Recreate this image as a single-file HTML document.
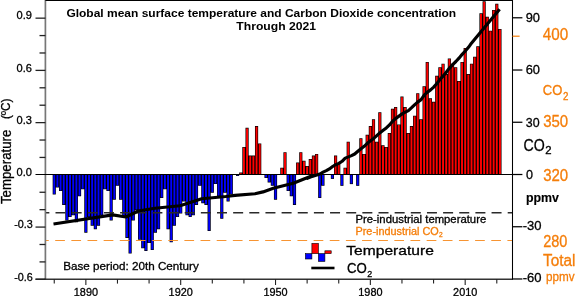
<!DOCTYPE html>
<html><head><meta charset="utf-8"><title>Global mean surface temperature and CO2</title>
<style>
html,body{margin:0;padding:0;background:#fff;}
body{width:575px;height:296px;overflow:hidden;}
svg{display:block;will-change:transform;font-family:"Liberation Sans",sans-serif;}
.r{fill:#f00;}
.b{fill:#00f;}
.lt{stroke:#222;stroke-width:1.3;}
.rt{stroke:#000;stroke-width:1.25;}
.bt{stroke:#222;stroke-width:1.1;}
.o{fill:#f57e0a;stroke:#f57e0a;}
text{stroke:#000;stroke-width:.3px;}
.o text,text.o{stroke:#f57e0a;}
.bold text{stroke-width:0;}
</style></head><body>
<svg width="575" height="296" viewBox="0 0 575 296">
<rect width="575" height="296" fill="#fff"/>
<!-- bars -->
<g>
<path d="M52.67,174.5 L52.67,194.52 L55.83,194.52 L55.83,187.58 L58.99,187.58 L58.99,191.05 L62.15,191.05 L62.15,204.93 L65.31,204.93 L65.31,220.54 L68.47,220.54 L68.47,217.07 L71.64,217.07 L71.64,215.34 L74.80,215.34 L74.80,222.28 L77.96,222.28 L77.96,196.25 L81.12,196.25 L81.12,189.31 L84.28,189.31 L84.28,232.69 L87.44,232.69 L87.44,217.07 L90.60,217.07 L90.60,225.75 L93.76,225.75 L93.76,229.22 L96.92,229.22 L96.92,225.75 L100.08,225.75 L100.08,215.34 L103.25,215.34 L103.25,189.31 L106.41,189.31 L106.41,191.05 L109.57,191.05 L109.57,220.54 L112.73,220.54 L112.73,199.72 L115.89,199.72 L115.89,185.84 L119.05,185.84 L119.05,199.72 L122.21,199.72 L122.21,217.07 L125.37,217.07 L125.37,237.89 L128.53,237.89 L128.53,253.51 L131.69,253.51 L131.69,220.54 L134.86,220.54 L134.86,210.13 L138.02,210.13 L138.02,239.63 L141.18,239.63 L141.18,248.31 L144.34,248.31 L144.34,250.91 L147.50,250.91 L147.50,243.10 L150.66,243.10 L150.66,250.04 L153.82,250.04 L153.82,232.69 L156.98,232.69 L156.98,229.22 L160.14,229.22 L160.14,197.99 L163.30,197.99 L163.30,189.31 L166.47,189.31 L166.47,229.22 L169.63,229.22 L169.63,242.23 L172.79,242.23 L172.79,225.75 L175.95,225.75 L175.95,217.07 L179.11,217.07 L179.11,213.60 L182.27,213.60 L182.27,201.46 L185.43,201.46 L185.43,215.34 L188.59,215.34 L188.59,217.07 L191.75,217.07 L191.75,215.34 L194.91,215.34 L194.91,204.93 L198.08,204.93 L198.08,185.84 L201.24,185.84 L201.24,203.19 L204.40,203.19 L204.40,204.93 L207.56,204.93 L207.56,230.95 L210.72,230.95 L210.72,192.78 L213.88,192.78 L213.88,184.11 L217.04,184.11 L217.04,196.25 L220.20,196.25 L220.20,218.81 L223.36,218.81 L223.36,192.78 L226.52,192.78 L226.52,201.46 L229.69,201.46 L229.69,194.52 L232.85,194.52 L232.85,174.5 Z" fill="#000"/>
<path d="M236.01,174.5 L236.01,175.96 L239.17,175.96 L239.17,174.5 Z" fill="#000"/>
<path d="M239.17,174.5 L239.17,172.53 L242.33,172.53 L242.33,146.94 L245.49,146.94 L245.49,127.85 L248.65,127.85 L248.65,155.61 L251.81,155.61 L251.81,155.61 L254.97,155.61 L254.97,126.12 L258.13,126.12 L258.13,143.47 L261.30,143.47 L261.30,174.5 Z" fill="#000"/>
<path d="M264.46,174.5 L264.46,178.04 L267.62,178.04 L267.62,182.38 L270.78,182.38 L270.78,185.84 L273.94,185.84 L273.94,199.72 L277.10,199.72 L277.10,174.5 Z" fill="#000"/>
<path d="M280.26,174.5 L280.26,167.76 L283.42,167.76 L283.42,152.14 L286.58,152.14 L286.58,174.5 Z" fill="#000"/>
<path d="M286.58,174.5 L286.58,191.05 L289.74,191.05 L289.74,196.25 L292.91,196.25 L292.91,204.93 L296.07,204.93 L296.07,174.5 Z" fill="#000"/>
<path d="M296.07,174.5 L296.07,162.55 L299.23,162.55 L299.23,152.14 L302.39,152.14 L302.39,160.82 L305.55,160.82 L305.55,166.02 L308.71,166.02 L308.71,159.08 L311.87,159.08 L311.87,155.61 L315.03,155.61 L315.03,153.88 L318.19,153.88 L318.19,174.5 Z" fill="#000"/>
<path d="M318.19,174.5 L318.19,197.99 L321.35,197.99 L321.35,185.84 L324.52,185.84 L324.52,174.5 Z" fill="#000"/>
<path d="M330.84,174.5 L330.84,178.91 L334.00,178.91 L334.00,174.5 Z" fill="#000"/>
<path d="M334.00,174.5 L334.00,155.61 L337.16,155.61 L337.16,164.29 L340.32,164.29 L340.32,174.5 Z" fill="#000"/>
<path d="M340.32,174.5 L340.32,185.84 L343.48,185.84 L343.48,174.5 Z" fill="#000"/>
<path d="M343.48,174.5 L343.48,167.76 L346.64,167.76 L346.64,141.73 L349.80,141.73 L349.80,174.5 Z" fill="#000"/>
<path d="M349.80,174.5 L349.80,184.11 L352.96,184.11 L352.96,174.5 Z" fill="#000"/>
<path d="M356.13,174.5 L356.13,185.84 L359.29,185.84 L359.29,174.5 Z" fill="#000"/>
<path d="M359.29,174.5 L359.29,138.26 L362.45,138.26 L362.45,153.88 L365.61,153.88 L365.61,134.79 L368.77,134.79 L368.77,126.12 L371.93,126.12 L371.93,119.18 L375.09,119.18 L375.09,141.73 L378.25,141.73 L378.25,112.24 L381.41,112.24 L381.41,145.20 L384.57,145.20 L384.57,146.94 L387.74,146.94 L387.74,133.06 L390.90,133.06 L390.90,108.77 L394.06,108.77 L394.06,107.03 L397.22,107.03 L397.22,124.38 L400.38,124.38 L400.38,96.62 L403.54,96.62 L403.54,107.03 L406.70,107.03 L406.70,133.06 L409.86,133.06 L409.86,126.12 L413.02,126.12 L413.02,115.71 L416.18,115.71 L416.18,93.15 L419.35,93.15 L419.35,119.18 L422.51,119.18 L422.51,86.21 L425.67,86.21 L425.67,61.92 L428.83,61.92 L428.83,98.36 L431.99,98.36 L431.99,101.83 L435.15,101.83 L435.15,75.80 L438.31,75.80 L438.31,67.13 L441.47,67.13 L441.47,63.66 L444.63,63.66 L444.63,74.07 L447.79,74.07 L447.79,58.45 L450.96,58.45 L450.96,63.66 L454.12,63.66 L454.12,67.13 L457.28,67.13 L457.28,81.01 L460.44,81.01 L460.44,61.92 L463.60,61.92 L463.60,48.04 L466.76,48.04 L466.76,74.07 L469.92,74.07 L469.92,63.66 L473.08,63.66 L473.08,56.72 L476.24,56.72 L476.24,46.31 L479.40,46.31 L479.40,13.34 L482.57,13.34 L482.57,1.20 L485.73,1.20 L485.73,16.81 L488.89,16.81 L488.89,30.69 L492.05,30.69 L492.05,9.88 L495.21,9.88 L495.21,3.80 L498.37,3.80 L498.37,28.96 L501.53,28.96 L501.53,174.5 Z" fill="#000"/>
<rect x="53.30" y="174.5" width="1.9" height="19.39" class="b"/>
<rect x="56.46" y="174.5" width="1.9" height="12.45" class="b"/>
<rect x="59.62" y="174.5" width="1.9" height="15.92" class="b"/>
<rect x="62.78" y="174.5" width="1.9" height="29.80" class="b"/>
<rect x="65.94" y="174.5" width="1.9" height="45.41" class="b"/>
<rect x="69.11" y="174.5" width="1.9" height="41.94" class="b"/>
<rect x="72.27" y="174.5" width="1.9" height="40.21" class="b"/>
<rect x="75.43" y="174.5" width="1.9" height="47.15" class="b"/>
<rect x="78.59" y="174.5" width="1.9" height="21.12" class="b"/>
<rect x="81.75" y="174.5" width="1.9" height="14.19" class="b"/>
<rect x="84.91" y="174.5" width="1.9" height="57.56" class="b"/>
<rect x="88.07" y="174.5" width="1.9" height="41.94" class="b"/>
<rect x="91.23" y="174.5" width="1.9" height="50.62" class="b"/>
<rect x="94.39" y="174.5" width="1.9" height="54.09" class="b"/>
<rect x="97.55" y="174.5" width="1.9" height="50.62" class="b"/>
<rect x="100.71" y="174.5" width="1.9" height="40.21" class="b"/>
<rect x="103.88" y="174.5" width="1.9" height="14.19" class="b"/>
<rect x="107.04" y="174.5" width="1.9" height="15.92" class="b"/>
<rect x="110.20" y="174.5" width="1.9" height="45.41" class="b"/>
<rect x="113.36" y="174.5" width="1.9" height="24.59" class="b"/>
<rect x="116.52" y="174.5" width="1.9" height="10.72" class="b"/>
<rect x="119.68" y="174.5" width="1.9" height="24.59" class="b"/>
<rect x="122.84" y="174.5" width="1.9" height="41.94" class="b"/>
<rect x="126.00" y="174.5" width="1.9" height="62.76" class="b"/>
<rect x="129.16" y="174.5" width="1.9" height="78.38" class="b"/>
<rect x="132.33" y="174.5" width="1.9" height="45.41" class="b"/>
<rect x="135.49" y="174.5" width="1.9" height="35.00" class="b"/>
<rect x="138.65" y="174.5" width="1.9" height="64.50" class="b"/>
<rect x="141.81" y="174.5" width="1.9" height="73.18" class="b"/>
<rect x="144.97" y="174.5" width="1.9" height="75.78" class="b"/>
<rect x="148.13" y="174.5" width="1.9" height="67.97" class="b"/>
<rect x="151.29" y="174.5" width="1.9" height="74.91" class="b"/>
<rect x="154.45" y="174.5" width="1.9" height="57.56" class="b"/>
<rect x="157.61" y="174.5" width="1.9" height="54.09" class="b"/>
<rect x="160.77" y="174.5" width="1.9" height="22.86" class="b"/>
<rect x="163.94" y="174.5" width="1.9" height="14.19" class="b"/>
<rect x="167.10" y="174.5" width="1.9" height="54.09" class="b"/>
<rect x="170.26" y="174.5" width="1.9" height="67.10" class="b"/>
<rect x="173.42" y="174.5" width="1.9" height="50.62" class="b"/>
<rect x="176.58" y="174.5" width="1.9" height="41.94" class="b"/>
<rect x="179.74" y="174.5" width="1.9" height="38.47" class="b"/>
<rect x="182.90" y="174.5" width="1.9" height="26.33" class="b"/>
<rect x="186.06" y="174.5" width="1.9" height="40.21" class="b"/>
<rect x="189.22" y="174.5" width="1.9" height="41.94" class="b"/>
<rect x="192.38" y="174.5" width="1.9" height="40.21" class="b"/>
<rect x="195.55" y="174.5" width="1.9" height="29.80" class="b"/>
<rect x="198.71" y="174.5" width="1.9" height="10.72" class="b"/>
<rect x="201.87" y="174.5" width="1.9" height="28.06" class="b"/>
<rect x="205.03" y="174.5" width="1.9" height="29.80" class="b"/>
<rect x="208.19" y="174.5" width="1.9" height="55.82" class="b"/>
<rect x="211.35" y="174.5" width="1.9" height="17.66" class="b"/>
<rect x="214.51" y="174.5" width="1.9" height="8.98" class="b"/>
<rect x="217.67" y="174.5" width="1.9" height="21.12" class="b"/>
<rect x="220.83" y="174.5" width="1.9" height="43.68" class="b"/>
<rect x="223.99" y="174.5" width="1.9" height="17.66" class="b"/>
<rect x="227.16" y="174.5" width="1.9" height="26.33" class="b"/>
<rect x="230.32" y="174.5" width="1.9" height="19.39" class="b"/>
<rect x="236.64" y="174.5" width="1.9" height="0.83" class="b"/>
<rect x="239.80" y="173.16" width="1.9" height="1.34" class="r"/>
<rect x="242.96" y="147.57" width="1.9" height="26.93" class="r"/>
<rect x="246.12" y="128.48" width="1.9" height="46.02" class="r"/>
<rect x="249.28" y="156.24" width="1.9" height="18.26" class="r"/>
<rect x="252.44" y="156.24" width="1.9" height="18.26" class="r"/>
<rect x="255.60" y="126.75" width="1.9" height="47.75" class="r"/>
<rect x="258.77" y="144.10" width="1.9" height="30.40" class="r"/>
<rect x="265.09" y="174.5" width="1.9" height="2.91" class="b"/>
<rect x="268.25" y="174.5" width="1.9" height="7.25" class="b"/>
<rect x="271.41" y="174.5" width="1.9" height="10.72" class="b"/>
<rect x="274.57" y="174.5" width="1.9" height="24.59" class="b"/>
<rect x="280.89" y="168.39" width="1.9" height="6.11" class="r"/>
<rect x="284.05" y="152.77" width="1.9" height="21.73" class="r"/>
<rect x="287.21" y="174.5" width="1.9" height="15.92" class="b"/>
<rect x="290.38" y="174.5" width="1.9" height="21.12" class="b"/>
<rect x="293.54" y="174.5" width="1.9" height="29.80" class="b"/>
<rect x="296.70" y="163.18" width="1.9" height="11.32" class="r"/>
<rect x="299.86" y="152.77" width="1.9" height="21.73" class="r"/>
<rect x="303.02" y="161.45" width="1.9" height="13.05" class="r"/>
<rect x="306.18" y="166.65" width="1.9" height="7.85" class="r"/>
<rect x="309.34" y="159.71" width="1.9" height="14.79" class="r"/>
<rect x="312.50" y="156.24" width="1.9" height="18.26" class="r"/>
<rect x="315.66" y="154.51" width="1.9" height="19.99" class="r"/>
<rect x="318.82" y="174.5" width="1.9" height="22.86" class="b"/>
<rect x="321.99" y="174.5" width="1.9" height="10.72" class="b"/>
<rect x="331.47" y="174.5" width="1.9" height="3.78" class="b"/>
<rect x="334.63" y="156.24" width="1.9" height="18.26" class="r"/>
<rect x="337.79" y="164.92" width="1.9" height="9.58" class="r"/>
<rect x="340.95" y="174.5" width="1.9" height="10.72" class="b"/>
<rect x="344.11" y="168.39" width="1.9" height="6.11" class="r"/>
<rect x="347.27" y="142.36" width="1.9" height="32.14" class="r"/>
<rect x="350.43" y="174.5" width="1.9" height="8.98" class="b"/>
<rect x="356.76" y="174.5" width="1.9" height="10.72" class="b"/>
<rect x="359.92" y="138.89" width="1.9" height="35.61" class="r"/>
<rect x="363.08" y="154.51" width="1.9" height="19.99" class="r"/>
<rect x="366.24" y="135.42" width="1.9" height="39.08" class="r"/>
<rect x="369.40" y="126.75" width="1.9" height="47.75" class="r"/>
<rect x="372.56" y="119.81" width="1.9" height="54.69" class="r"/>
<rect x="375.72" y="142.36" width="1.9" height="32.14" class="r"/>
<rect x="378.88" y="112.87" width="1.9" height="61.63" class="r"/>
<rect x="382.04" y="145.83" width="1.9" height="28.67" class="r"/>
<rect x="385.21" y="147.57" width="1.9" height="26.93" class="r"/>
<rect x="388.37" y="133.69" width="1.9" height="40.81" class="r"/>
<rect x="391.53" y="109.40" width="1.9" height="65.10" class="r"/>
<rect x="394.69" y="107.66" width="1.9" height="66.84" class="r"/>
<rect x="397.85" y="125.01" width="1.9" height="49.49" class="r"/>
<rect x="401.01" y="97.25" width="1.9" height="77.25" class="r"/>
<rect x="404.17" y="107.66" width="1.9" height="66.84" class="r"/>
<rect x="407.33" y="133.69" width="1.9" height="40.81" class="r"/>
<rect x="410.49" y="126.75" width="1.9" height="47.75" class="r"/>
<rect x="413.65" y="116.34" width="1.9" height="58.16" class="r"/>
<rect x="416.81" y="93.78" width="1.9" height="80.72" class="r"/>
<rect x="419.98" y="119.81" width="1.9" height="54.69" class="r"/>
<rect x="423.14" y="86.84" width="1.9" height="87.66" class="r"/>
<rect x="426.30" y="62.55" width="1.9" height="111.95" class="r"/>
<rect x="429.46" y="98.99" width="1.9" height="75.51" class="r"/>
<rect x="432.62" y="102.46" width="1.9" height="72.04" class="r"/>
<rect x="435.78" y="76.43" width="1.9" height="98.07" class="r"/>
<rect x="438.94" y="67.76" width="1.9" height="106.74" class="r"/>
<rect x="442.10" y="64.29" width="1.9" height="110.21" class="r"/>
<rect x="445.26" y="74.70" width="1.9" height="99.80" class="r"/>
<rect x="448.43" y="59.08" width="1.9" height="115.42" class="r"/>
<rect x="451.59" y="64.29" width="1.9" height="110.21" class="r"/>
<rect x="454.75" y="67.76" width="1.9" height="106.74" class="r"/>
<rect x="457.91" y="81.64" width="1.9" height="92.86" class="r"/>
<rect x="461.07" y="62.55" width="1.9" height="111.95" class="r"/>
<rect x="464.23" y="48.67" width="1.9" height="125.83" class="r"/>
<rect x="467.39" y="74.70" width="1.9" height="99.80" class="r"/>
<rect x="470.55" y="64.29" width="1.9" height="110.21" class="r"/>
<rect x="473.71" y="57.35" width="1.9" height="117.15" class="r"/>
<rect x="476.87" y="46.94" width="1.9" height="127.56" class="r"/>
<rect x="480.04" y="13.97" width="1.9" height="160.53" class="r"/>
<rect x="483.20" y="1.83" width="1.9" height="172.67" class="r"/>
<rect x="486.36" y="17.44" width="1.9" height="157.06" class="r"/>
<rect x="489.52" y="31.32" width="1.9" height="143.18" class="r"/>
<rect x="492.68" y="10.51" width="1.9" height="164.00" class="r"/>
<rect x="495.84" y="4.43" width="1.9" height="170.07" class="r"/>
<rect x="499.00" y="29.59" width="1.9" height="144.91" class="r"/>
</g>
<!-- dashed lines -->
<line x1="45.4" y1="212.8" x2="512.5" y2="212.8" stroke="#2a2a2a" stroke-width="1.5" stroke-dasharray="10 6.15" stroke-dashoffset="6.05"/>
<line x1="45.4" y1="240.5" x2="512.5" y2="240.5" stroke="#f79432" stroke-width="1.1" stroke-dasharray="9.7 6.45" stroke-dashoffset="6.35"/>
<!-- axes -->
<line x1="45.4" y1="0" x2="45.4" y2="279.15" stroke="#777" stroke-width="1.7"/>
<line x1="44.699999999999996" y1="279.15" x2="512.5" y2="279.15" stroke="#333" stroke-width="1.5"/>
<line x1="35.5" y1="279.15" x2="45.4" y2="279.15" stroke="#222" stroke-width="1.3"/>
<line x1="45.4" y1="0.5" x2="512.5" y2="0.5" stroke="#000" stroke-width="1.2"/>
<line x1="512.5" y1="0" x2="512.5" y2="279.84999999999997" stroke="#000" stroke-width="1.05"/>
<!-- zero line -->
<line x1="35.5" y1="174.5" x2="521.8" y2="174.5" stroke="#000" stroke-width="1.15"/>
<line x1="35.5" y1="279.31" x2="45.4" y2="279.31" class="lt"/>
<line x1="39.5" y1="261.90" x2="45.4" y2="261.90" class="lt"/>
<line x1="39.5" y1="244.49" x2="45.4" y2="244.49" class="lt"/>
<line x1="35.5" y1="227.08" x2="45.4" y2="227.08" class="lt"/>
<line x1="39.5" y1="209.67" x2="45.4" y2="209.67" class="lt"/>
<line x1="39.5" y1="192.26" x2="45.4" y2="192.26" class="lt"/>
<line x1="39.5" y1="157.44" x2="45.4" y2="157.44" class="lt"/>
<line x1="39.5" y1="140.03" x2="45.4" y2="140.03" class="lt"/>
<line x1="35.5" y1="122.62" x2="45.4" y2="122.62" class="lt"/>
<line x1="39.5" y1="105.21" x2="45.4" y2="105.21" class="lt"/>
<line x1="39.5" y1="87.80" x2="45.4" y2="87.80" class="lt"/>
<line x1="35.5" y1="70.39" x2="45.4" y2="70.39" class="lt"/>
<line x1="39.5" y1="52.98" x2="45.4" y2="52.98" class="lt"/>
<line x1="39.5" y1="35.57" x2="45.4" y2="35.57" class="lt"/>
<line x1="35.5" y1="18.16" x2="45.4" y2="18.16" class="lt"/>
<line x1="512.5" y1="17.78" x2="522.4" y2="17.78" class="rt"/>
<line x1="512.5" y1="70.02" x2="522.4" y2="70.02" class="rt"/>
<line x1="512.5" y1="122.26" x2="522.4" y2="122.26" class="rt"/>
<line x1="512.5" y1="174.50" x2="522.4" y2="174.50" class="rt"/>
<line x1="512.5" y1="226.74" x2="522.4" y2="226.74" class="rt"/>
<line x1="512.5" y1="278.98" x2="522.4" y2="278.98" class="rt"/>
<line x1="512.5" y1="36.2" x2="519.6" y2="36.2" stroke="#f57e0a" stroke-width="1.2"/>
<line x1="54.25" y1="279.15" x2="54.25" y2="283.6" class="bt"/>
<line x1="85.86" y1="279.15" x2="85.86" y2="285" class="bt"/>
<line x1="117.47" y1="279.15" x2="117.47" y2="283.6" class="bt"/>
<line x1="149.08" y1="279.15" x2="149.08" y2="283.6" class="bt"/>
<line x1="180.69" y1="279.15" x2="180.69" y2="285" class="bt"/>
<line x1="212.30" y1="279.15" x2="212.30" y2="283.6" class="bt"/>
<line x1="243.91" y1="279.15" x2="243.91" y2="283.6" class="bt"/>
<line x1="275.52" y1="279.15" x2="275.52" y2="285" class="bt"/>
<line x1="307.13" y1="279.15" x2="307.13" y2="283.6" class="bt"/>
<line x1="338.74" y1="279.15" x2="338.74" y2="283.6" class="bt"/>
<line x1="370.35" y1="279.15" x2="370.35" y2="285" class="bt"/>
<line x1="401.96" y1="279.15" x2="401.96" y2="283.6" class="bt"/>
<line x1="433.57" y1="279.15" x2="433.57" y2="283.6" class="bt"/>
<line x1="465.18" y1="279.15" x2="465.18" y2="285" class="bt"/>
<line x1="496.79" y1="279.15" x2="496.79" y2="283.6" class="bt"/>
<!-- CO2 line -->
<path d="M53.5,224.0 L112.7,214.9 L126.0,217.0 L138.3,211.0 L155.0,208.2 L180.0,205.7 L201.7,198.7 L225.8,196.5 L235.0,195.4 L255.0,193.7 L263.0,191.9 L273.3,188.2 L293.3,183.2 L310.8,176.3 L307.3,178.3 L310.4,177.0 L313.6,176.0 L316.8,175.0 L319.9,174.0 L323.1,172.1 L326.3,170.6 L329.4,168.9 L332.6,166.5 L335.7,164.7 L338.9,163.4 L342.1,161.3 L345.2,158.1 L348.4,156.9 L351.5,155.6 L354.7,154.0 L357.9,151.3 L361.0,148.7 L364.2,146.3 L367.3,143.3 L370.5,140.8 L373.7,138.4 L376.8,135.6 L380.0,132.7 L383.2,130.2 L386.3,127.9 L389.5,124.9 L392.6,121.2 L395.8,118.4 L399.0,116.1 L402.1,113.9 L405.3,112.2 L408.4,110.6 L411.6,107.7 L414.8,104.6 L417.9,101.9 L421.1,99.6 L424.2,95.2 L427.4,92.1 L430.6,89.9 L433.7,87.1 L436.9,83.5 L440.1,79.4 L443.2,75.9 L446.4,72.0 L449.5,68.1 L452.7,64.6 L455.9,61.5 L459.0,58.2 L462.2,54.3 L465.3,51.0 L468.5,47.3 L470.6,44.3 L499.6,9.2" fill="none" stroke="#000" stroke-width="3.15" stroke-linejoin="round"/>
<!-- left labels -->
<g font-size="11.8" fill="#000" text-anchor="end">
<text x="32" y="19.2" textLength="15.4" lengthAdjust="spacingAndGlyphs">0.9</text>
<text x="32" y="71.5" textLength="15.4" lengthAdjust="spacingAndGlyphs">0.6</text>
<text x="32" y="123.8" textLength="15.4" lengthAdjust="spacingAndGlyphs">0.3</text>
<text x="32" y="175.9" textLength="15.4" lengthAdjust="spacingAndGlyphs">0.0</text>
<text x="32.8" y="228.2" textLength="18.6" lengthAdjust="spacingAndGlyphs">-0.3</text>
<text x="32.8" y="280.6" textLength="18.6" lengthAdjust="spacingAndGlyphs">-0.6</text>
</g>
<text transform="translate(10.6,204) rotate(-90)" font-size="14" textLength="74.3" lengthAdjust="spacingAndGlyphs">Temperature</text>
<text transform="translate(9.9,119.1) rotate(-90)" font-size="13.4" textLength="20.4" lengthAdjust="spacingAndGlyphs">(ºC)</text>
<!-- bottom labels -->
<g font-size="11.6" fill="#000" text-anchor="middle">
<text x="85.9" y="296.3" textLength="24.2" lengthAdjust="spacingAndGlyphs">1890</text>
<text x="180.7" y="296.3" textLength="24.2" lengthAdjust="spacingAndGlyphs">1920</text>
<text x="275.5" y="296.3" textLength="24.2" lengthAdjust="spacingAndGlyphs">1950</text>
<text x="370.4" y="296.3" textLength="24.2" lengthAdjust="spacingAndGlyphs">1980</text>
<text x="465.2" y="296.3" textLength="24.2" lengthAdjust="spacingAndGlyphs">2010</text>
</g>
<!-- title -->
<g class="bold" font-size="10.8" font-weight="bold" fill="#000">
<text x="66.4" y="16.8" textLength="389.8" lengthAdjust="spacingAndGlyphs">Global mean surface temperature and Carbon Dioxide concentration</text>
<text x="236.3" y="29.9" textLength="79.7" lengthAdjust="spacingAndGlyphs">Through 2021</text>
</g>
<!-- inside texts -->
<text x="63.25" y="270.2" font-size="11.5" textLength="135.5" lengthAdjust="spacingAndGlyphs">Base period: 20th Century</text>
<text x="355.5" y="223.2" font-size="10.5" textLength="130.7" lengthAdjust="spacingAndGlyphs">Pre-industrial temperature</text>
<text x="355.5" y="234.5" font-size="10.5" class="o" textLength="83.3" lengthAdjust="spacingAndGlyphs">Pre-industrial CO</text>
<text x="439" y="237.2" font-size="6.6" class="o">2</text>
<!-- legend -->
<g stroke="#000" stroke-width=".6">
<rect x="305.4" y="253.6" width="6.5" height="5.4" fill="#00f"/>
<rect x="311.9" y="243.4" width="6.5" height="10.2" fill="#f00"/>
<rect x="318.4" y="253.6" width="6.5" height="7.8" fill="#00f"/>
<rect x="324.9" y="250.8" width="6.3" height="2.8" fill="#f00"/>
</g>
<line x1="311.3" y1="268" x2="334.5" y2="268" stroke="#000" stroke-width="2.6"/>
<text x="346.3" y="254.8" font-size="13.6" textLength="87.5" lengthAdjust="spacingAndGlyphs">Temperature</text>
<text x="346.9" y="273" font-size="15" textLength="19.8" lengthAdjust="spacingAndGlyphs">CO</text>
<text x="367.2" y="276.8" font-size="9.5" textLength="5" lengthAdjust="spacingAndGlyphs">2</text>
<!-- right labels -->
<g font-size="13.3" fill="#000" text-anchor="end">
<text x="540" y="22" textLength="14.3" lengthAdjust="spacingAndGlyphs">90</text>
<text x="540" y="74.4" textLength="14.3" lengthAdjust="spacingAndGlyphs">60</text>
<text x="539.6" y="126.5" textLength="13.8" lengthAdjust="spacingAndGlyphs">30</text>
<text x="533" y="178.9" textLength="7" lengthAdjust="spacingAndGlyphs">0</text>
<text x="541.5" y="230.4" textLength="18.8" lengthAdjust="spacingAndGlyphs">-30</text>
<text x="541.5" y="282.3" textLength="18.8" lengthAdjust="spacingAndGlyphs">-60</text>
</g>
<text x="523.6" y="150.8" font-size="16" textLength="21.2" lengthAdjust="spacingAndGlyphs">CO</text>
<text x="545.3" y="153.8" font-size="10.5" textLength="6.3" lengthAdjust="spacingAndGlyphs">2</text>
<text x="526" y="201.5" font-size="12" font-weight="bold" textLength="33" lengthAdjust="spacingAndGlyphs" style="stroke-width:0.15px">ppmv</text>
<g class="o" font-size="16">
<text x="542.8" y="40.4" textLength="25.4" lengthAdjust="spacingAndGlyphs">400</text>
<text x="542.8" y="94.8" font-size="14.6" textLength="19.5" lengthAdjust="spacingAndGlyphs">CO</text>
<text x="563" y="99.6" font-size="10" textLength="5.4" lengthAdjust="spacingAndGlyphs">2</text>
<text x="543.2" y="127.1" textLength="25" lengthAdjust="spacingAndGlyphs">350</text>
<text x="543.2" y="181.3" textLength="25" lengthAdjust="spacingAndGlyphs">320</text>
<text x="543.2" y="246.6" textLength="24.2" lengthAdjust="spacingAndGlyphs">280</text>
<text x="543.1" y="266" textLength="32.4" lengthAdjust="spacingAndGlyphs">Total</text>
<text x="546" y="281" font-size="13.2" textLength="28.6" lengthAdjust="spacingAndGlyphs">ppmv</text>
</g>
</svg>
</body></html>
